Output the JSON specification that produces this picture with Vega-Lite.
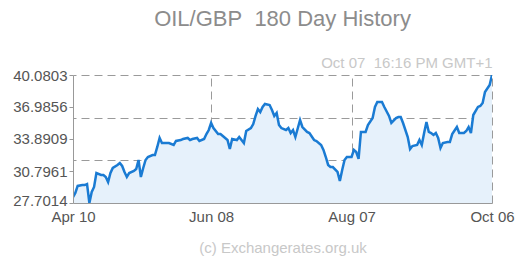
{
  "$schema": "https://vega.github.io/schema/vega-lite/v6.json",
  "width": 419,
  "height": 128,
  "autosize": "none",
  "padding": {"left": 73, "top": 75, "right": 28, "bottom": 57},
  "background": "white",
  "config": {"view": {"stroke": null}, "font": "Liberation Sans"},
  "title": {"text": "OIL/GBP\u00a0 180 Day History", "anchor": "middle", "frame": "group", "offset": 24, "fontSize": 22, "fontWeight": "normal", "color": "#8c8c8c", "font": "Liberation Sans"},
  "data": {"values": [
    {"date": "2017-04-10T00:00:00", "rate": 28.28},
    {"date": "2017-04-11T00:00:00", "rate": 28.67},
    {"date": "2017-04-12T00:00:00", "rate": 29.35},
    {"date": "2017-04-14T00:00:00", "rate": 29.44},
    {"date": "2017-04-15T00:00:00", "rate": 29.44},
    {"date": "2017-04-16T00:00:00", "rate": 29.54},
    {"date": "2017-04-17T00:00:00", "rate": 27.7014},
    {"date": "2017-04-18T00:00:00", "rate": 28.77},
    {"date": "2017-04-19T00:00:00", "rate": 29.25},
    {"date": "2017-04-20T00:00:00", "rate": 30.60},
    {"date": "2017-04-22T00:00:00", "rate": 30.41},
    {"date": "2017-04-23T00:00:00", "rate": 30.41},
    {"date": "2017-04-24T00:00:00", "rate": 30.22},
    {"date": "2017-04-25T00:00:00", "rate": 29.73},
    {"date": "2017-04-26T00:00:00", "rate": 30.60},
    {"date": "2017-04-27T00:00:00", "rate": 31.09},
    {"date": "2017-04-29T00:00:00", "rate": 31.38},
    {"date": "2017-04-30T00:00:00", "rate": 31.57},
    {"date": "2017-05-01T00:00:00", "rate": 31.28},
    {"date": "2017-05-02T00:00:00", "rate": 30.70},
    {"date": "2017-05-03T00:00:00", "rate": 30.22},
    {"date": "2017-05-04T00:00:00", "rate": 30.60},
    {"date": "2017-05-06T00:00:00", "rate": 30.80},
    {"date": "2017-05-07T00:00:00", "rate": 30.99},
    {"date": "2017-05-08T00:00:00", "rate": 31.86},
    {"date": "2017-05-09T00:00:00", "rate": 30.22},
    {"date": "2017-05-10T00:00:00", "rate": 31.09},
    {"date": "2017-05-11T00:00:00", "rate": 31.86},
    {"date": "2017-05-12T00:00:00", "rate": 32.15},
    {"date": "2017-05-14T00:00:00", "rate": 32.34},
    {"date": "2017-05-15T00:00:00", "rate": 32.34},
    {"date": "2017-05-16T00:00:00", "rate": 33.12},
    {"date": "2017-05-17T00:00:00", "rate": 33.99},
    {"date": "2017-05-18T00:00:00", "rate": 33.50},
    {"date": "2017-05-19T00:00:00", "rate": 33.50},
    {"date": "2017-05-21T00:00:00", "rate": 33.50},
    {"date": "2017-05-23T00:00:00", "rate": 33.31},
    {"date": "2017-05-24T00:00:00", "rate": 33.70},
    {"date": "2017-05-26T00:00:00", "rate": 33.79},
    {"date": "2017-05-27T00:00:00", "rate": 33.89},
    {"date": "2017-05-29T00:00:00", "rate": 33.99},
    {"date": "2017-05-30T00:00:00", "rate": 33.79},
    {"date": "2017-05-31T00:00:00", "rate": 33.89},
    {"date": "2017-06-02T00:00:00", "rate": 33.99},
    {"date": "2017-06-03T00:00:00", "rate": 33.70},
    {"date": "2017-06-05T00:00:00", "rate": 33.89},
    {"date": "2017-06-06T00:00:00", "rate": 34.37},
    {"date": "2017-06-07T00:00:00", "rate": 34.76},
    {"date": "2017-06-08T00:00:00", "rate": 35.44},
    {"date": "2017-06-09T00:00:00", "rate": 34.95},
    {"date": "2017-06-11T00:00:00", "rate": 34.37},
    {"date": "2017-06-12T00:00:00", "rate": 34.37},
    {"date": "2017-06-13T00:00:00", "rate": 34.18},
    {"date": "2017-06-15T00:00:00", "rate": 33.79},
    {"date": "2017-06-16T00:00:00", "rate": 32.92},
    {"date": "2017-06-17T00:00:00", "rate": 33.89},
    {"date": "2017-06-19T00:00:00", "rate": 33.79},
    {"date": "2017-06-20T00:00:00", "rate": 34.08},
    {"date": "2017-06-22T00:00:00", "rate": 33.50},
    {"date": "2017-06-23T00:00:00", "rate": 34.66},
    {"date": "2017-06-25T00:00:00", "rate": 34.95},
    {"date": "2017-06-26T00:00:00", "rate": 35.34},
    {"date": "2017-06-27T00:00:00", "rate": 36.12},
    {"date": "2017-06-28T00:00:00", "rate": 36.79},
    {"date": "2017-06-29T00:00:00", "rate": 36.50},
    {"date": "2017-06-30T00:00:00", "rate": 36.99},
    {"date": "2017-07-01T00:00:00", "rate": 37.28},
    {"date": "2017-07-03T00:00:00", "rate": 37.18},
    {"date": "2017-07-04T00:00:00", "rate": 36.70},
    {"date": "2017-07-05T00:00:00", "rate": 36.12},
    {"date": "2017-07-06T00:00:00", "rate": 36.41},
    {"date": "2017-07-07T00:00:00", "rate": 35.24},
    {"date": "2017-07-08T00:00:00", "rate": 34.95},
    {"date": "2017-07-10T00:00:00", "rate": 34.76},
    {"date": "2017-07-11T00:00:00", "rate": 34.95},
    {"date": "2017-07-12T00:00:00", "rate": 34.47},
    {"date": "2017-07-13T00:00:00", "rate": 34.76},
    {"date": "2017-07-14T00:00:00", "rate": 34.08},
    {"date": "2017-07-16T00:00:00", "rate": 35.73},
    {"date": "2017-07-17T00:00:00", "rate": 35.05},
    {"date": "2017-07-19T00:00:00", "rate": 34.57},
    {"date": "2017-07-20T00:00:00", "rate": 34.47},
    {"date": "2017-07-22T00:00:00", "rate": 33.79},
    {"date": "2017-07-23T00:00:00", "rate": 33.70},
    {"date": "2017-07-25T00:00:00", "rate": 33.31},
    {"date": "2017-07-26T00:00:00", "rate": 32.83},
    {"date": "2017-07-27T00:00:00", "rate": 32.15},
    {"date": "2017-07-28T00:00:00", "rate": 31.38},
    {"date": "2017-07-29T00:00:00", "rate": 31.18},
    {"date": "2017-07-30T00:00:00", "rate": 31.18},
    {"date": "2017-08-01T00:00:00", "rate": 30.70},
    {"date": "2017-08-02T00:00:00", "rate": 29.83},
    {"date": "2017-08-03T00:00:00", "rate": 30.89},
    {"date": "2017-08-04T00:00:00", "rate": 31.86},
    {"date": "2017-08-05T00:00:00", "rate": 32.15},
    {"date": "2017-08-07T00:00:00", "rate": 32.15},
    {"date": "2017-08-08T00:00:00", "rate": 32.83},
    {"date": "2017-08-09T00:00:00", "rate": 32.63},
    {"date": "2017-08-10T00:00:00", "rate": 31.96},
    {"date": "2017-08-11T00:00:00", "rate": 34.57},
    {"date": "2017-08-13T00:00:00", "rate": 34.57},
    {"date": "2017-08-14T00:00:00", "rate": 35.24},
    {"date": "2017-08-16T00:00:00", "rate": 35.92},
    {"date": "2017-08-17T00:00:00", "rate": 36.99},
    {"date": "2017-08-18T00:00:00", "rate": 37.47},
    {"date": "2017-08-20T00:00:00", "rate": 37.47},
    {"date": "2017-08-21T00:00:00", "rate": 36.99},
    {"date": "2017-08-23T00:00:00", "rate": 36.12},
    {"date": "2017-08-24T00:00:00", "rate": 35.44},
    {"date": "2017-08-26T00:00:00", "rate": 35.92},
    {"date": "2017-08-27T00:00:00", "rate": 36.02},
    {"date": "2017-08-28T00:00:00", "rate": 36.02},
    {"date": "2017-08-29T00:00:00", "rate": 35.44},
    {"date": "2017-08-31T00:00:00", "rate": 34.08},
    {"date": "2017-09-01T00:00:00", "rate": 32.92},
    {"date": "2017-09-02T00:00:00", "rate": 33.21},
    {"date": "2017-09-04T00:00:00", "rate": 33.31},
    {"date": "2017-09-05T00:00:00", "rate": 33.79},
    {"date": "2017-09-06T00:00:00", "rate": 33.31},
    {"date": "2017-09-07T00:00:00", "rate": 34.47},
    {"date": "2017-09-08T00:00:00", "rate": 35.54},
    {"date": "2017-09-09T00:00:00", "rate": 34.57},
    {"date": "2017-09-10T00:00:00", "rate": 34.47},
    {"date": "2017-09-11T00:00:00", "rate": 34.28},
    {"date": "2017-09-12T00:00:00", "rate": 34.47},
    {"date": "2017-09-13T00:00:00", "rate": 33.99},
    {"date": "2017-09-14T00:00:00", "rate": 33.02},
    {"date": "2017-09-15T00:00:00", "rate": 33.50},
    {"date": "2017-09-17T00:00:00", "rate": 33.60},
    {"date": "2017-09-18T00:00:00", "rate": 33.60},
    {"date": "2017-09-19T00:00:00", "rate": 34.37},
    {"date": "2017-09-21T00:00:00", "rate": 35.05},
    {"date": "2017-09-22T00:00:00", "rate": 34.47},
    {"date": "2017-09-24T00:00:00", "rate": 34.47},
    {"date": "2017-09-25T00:00:00", "rate": 34.66},
    {"date": "2017-09-26T00:00:00", "rate": 35.05},
    {"date": "2017-09-27T00:00:00", "rate": 34.47},
    {"date": "2017-09-28T00:00:00", "rate": 36.21},
    {"date": "2017-09-30T00:00:00", "rate": 36.99},
    {"date": "2017-10-01T00:00:00", "rate": 37.08},
    {"date": "2017-10-02T00:00:00", "rate": 37.37},
    {"date": "2017-10-03T00:00:00", "rate": 38.44},
    {"date": "2017-10-05T00:00:00", "rate": 39.11},
    {"date": "2017-10-06T00:00:00", "rate": 40.0803}
  ]},
  "layer": [
    {
      "mark": {"type": "area", "color": "#e6f1fb", "opacity": 1, "clip": true},
      "encoding": {
        "x": {"field": "date", "type": "temporal",
          "scale": {"domain": [{"year": 2017, "month": "apr", "date": 10}, {"year": 2017, "month": "oct", "date": 6}]},
          "axis": {"orient": "top", "values": [{"year": 2017, "month": "jun", "date": 8}, {"year": 2017, "month": "aug", "date": 7}, {"year": 2017, "month": "oct", "date": 6}],
            "grid": true, "gridDash": [8, 5], "gridColor": "#9a9a9a", "gridWidth": 1, "gridOpacity": 1,
            "labels": false, "ticks": false, "domain": false, "zindex": 0,
            "title": "Oct 07\u00a0 16:16 PM GMT+1", "titleAnchor": "end", "titleColor": "#c8c8c8", "titleFontSize": 15, "titleFontWeight": "normal", "titleFont": "Liberation Sans", "titlePadding": 5}},
        "y": {"field": "rate", "type": "quantitative",
          "scale": {"domain": [27.7014, 40.0803], "nice": false, "zero": false},
          "axis": {"orient": "right", "values": [31.8277, 35.954, 40.0803],
            "grid": true, "gridDash": [8, 5], "gridColor": "#9a9a9a", "gridWidth": 1, "gridOpacity": 1,
            "labels": false, "ticks": false, "domain": false, "zindex": 0, "title": null}}
      }
    },
    {
      "mark": {"type": "line", "color": "#1a7bd3", "strokeWidth": 2.5, "clip": true},
      "encoding": {
        "x": {"field": "date", "type": "temporal",
          "axis": {"orient": "bottom", "values": [{"year": 2017, "month": "apr", "date": 10}, {"year": 2017, "month": "jun", "date": 8}, {"year": 2017, "month": "aug", "date": 7}, {"year": 2017, "month": "oct", "date": 6}],
            "format": "%b %d", "grid": false, "ticks": false, "domain": true, "domainColor": "#999999", "zindex": 1,
            "labelColor": "#555555", "labelFontSize": 15, "labelFont": "Liberation Sans", "labelPadding": 6, "labelFlush": false, "labelOverlap": false,
            "title": "(c) Exchangerates.org.uk", "titleColor": "#c8c8c8", "titleFontSize": 15, "titleFontWeight": "normal", "titleFont": "Liberation Sans", "titlePadding": 16}},
        "y": {"field": "rate", "type": "quantitative",
          "axis": {"orient": "left", "values": [27.7014, 30.7961, 33.8909, 36.9856, 40.0803], "format": ".4f",
            "grid": false, "ticks": true, "tickSize": 4, "tickColor": "#999999", "domain": true, "domainColor": "#999999", "zindex": 1,
            "labelColor": "#555555", "labelFontSize": 15, "labelFont": "Liberation Sans", "labelPadding": 2, "labelOverlap": false, "labelFlush": false,
            "labelOffset": {"condition": {"test": "datum.value < 28", "value": -3}, "value": 0},
            "title": null}}
      }
    }
  ],
  "resolve": {"axis": {"x": "independent", "y": "independent"}}
}
